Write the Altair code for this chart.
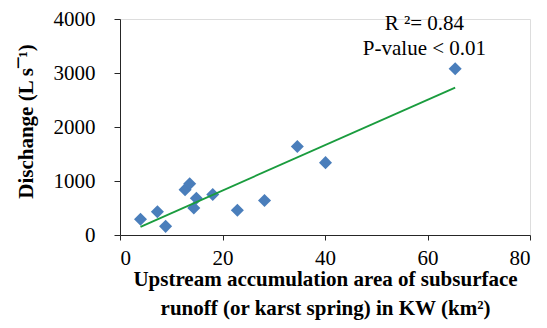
import altair as alt
import pandas as pd

# Upstream accumulation area (km2) and discharge (L/s)
area = [4.0, 7.3, 8.9, 12.7, 13.6, 14.9, 14.4, 18.1, 22.9, 28.2, 34.6, 40.1, 65.4]
discharge = [290, 430, 160, 840, 950, 680, 500, 750, 460, 640, 1640, 1340, 3080]

annot_text = ["R \u00b2= 0.84", "P-value < 0.01"]
annot_x = [59.4, 59.4]
annot_y = [3900, 3440]

df = pd.DataFrame({"area": area, "q": discharge})

FONT = "serif"

xscale = alt.Scale(domain=[0, 80], nice=False, zero=True)
yscale = alt.Scale(domain=[0, 4000], nice=False)

xaxis = alt.Axis(
    values=[0, 20, 40, 60, 80], format="d", grid=False, tickSize=5, labelPadding=7,
    labelFontSize=21, labelColor="black", labelFont=FONT,
    title=["Upstream accumulation area of subsurface", "runoff (or karst spring) in KW (km\u00b2)"],
    titleFontSize=21, titleFontWeight="bold", titleColor="black", titleFont=FONT,
    titleLineHeight=29, titleBaseline="top", titleY=33,
    domainColor="#262626", tickColor="#262626",
)
yaxis = alt.Axis(
    values=[0, 1000, 2000, 3000, 4000], format="d", grid=False, tickSize=6, labelPadding=19,
    labelFontSize=21, labelColor="black", labelFont=FONT,
    title="Dischange (L s\u00af\u00b9)",
    titleFontSize=21, titleFontWeight="bold", titleColor="black", titleFont=FONT,
    titleAngle=270, titleX=-94, titleY=102, titleAlign="center", titleBaseline="middle",
    domainColor="#262626", tickColor="#262626",
)

points = alt.Chart(df).mark_point(shape="diamond", filled=True, size=170, color="#4a7ebb", opacity=1).encode(
    x=alt.X("area:Q", scale=xscale, axis=xaxis),
    y=alt.Y("q:Q", scale=yscale, axis=yaxis),
)

trend = alt.Chart(df).transform_regression("area", "q", method="linear").mark_line(
    color="#1a9c3e", strokeWidth=1.8
).encode(
    x=alt.X("area:Q", scale=xscale),
    y=alt.Y("q:Q", scale=yscale),
)

layers = []
for t, x, y in zip(annot_text, annot_x, annot_y):
    d = pd.DataFrame({"t": [t], "x": [x], "y": [y]})
    layers.append(alt.Chart(d).mark_text(font=FONT, fontSize=21, color="black").encode(
        x=alt.X("x:Q", scale=xscale), y=alt.Y("y:Q", scale=yscale), text="t:N"))

chart = alt.layer(points, trend, *layers).properties(
    width=410, height=216,
    autosize=alt.AutoSizeParams(type="none"),
    padding={"left": 112, "top": 11, "right": 9, "bottom": 85},
).configure_view(stroke=None).configure(background="white")

chart.save("out.html", embed_options={"renderer": "svg", "actions": False})
